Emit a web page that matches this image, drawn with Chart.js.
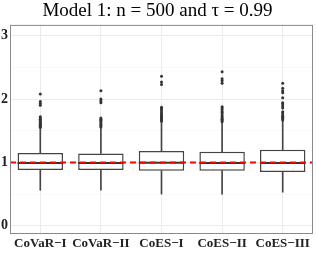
<!DOCTYPE html>
<html>
<head>
<meta charset="utf-8">
<script src="https://cdn.jsdelivr.net/npm/chart.js@4"></script>
<style>
  body { margin: 0; background: #fff; }
  #wrap { width: 317px; height: 253px; }
</style>
</head>
<body>
<div id="wrap"><canvas id="boxChart"></canvas></div>
<script>
const categories = ["CoVaR\u2212I", "CoVaR\u2212II", "CoES\u2212I", "CoES\u2212II", "CoES\u2212III"];
const lowerWhisker = [0.56, 0.56, 0.50, 0.50, 0.53];
const q1 = [0.88, 0.88, 0.87, 0.87, 0.85];
const medians = [0.99, 0.99, 0.995, 0.99, 0.99];
const q3 = [1.15, 1.14, 1.18, 1.17, 1.20];
const upperWhisker = [1.53, 1.54, 1.63, 1.62, 1.65];
const outliers = [
  [1.55, 1.57, 1.58, 1.60, 1.61, 1.62, 1.64, 1.66, 1.68, 1.70, 1.72, 1.90, 1.93, 1.96, 2.08],
  [1.56, 1.58, 1.60, 1.62, 1.64, 1.66, 1.68, 1.70, 1.94, 1.97, 2.00, 2.13],
  [1.65, 1.67, 1.69, 1.71, 1.73, 1.75, 1.77, 1.80, 1.83, 1.85, 1.87, 2.23, 2.27, 2.36],
  [1.64, 1.66, 1.68, 1.70, 1.72, 1.75, 1.78, 1.80, 1.83, 1.86, 1.88, 2.25, 2.29, 2.32, 2.43],
  [1.67, 1.69, 1.71, 1.73, 1.75, 1.78, 1.80, 1.86, 1.89, 1.92, 1.94, 2.02, 2.10, 2.13, 2.17, 2.25]
];
const yTicks = [0, 0.5, 1, 1.5, 2, 2.5, 3];
const refLine = 1;

const serif = "'Liberation Serif', 'Times New Roman', serif";

const outlierPoints = [];
outliers.forEach((list, i) => {
  list.forEach(v => outlierPoints.push({ x: categories[i], y: v }));
});

const boxExtras = {
  id: "boxExtras",
  afterDatasetsDraw(chart) {
    const ctx = chart.ctx;
    const y = chart.scales.y;
    const area = chart.chartArea;
    const boxes = chart.getDatasetMeta(0).data;

    // medians
    ctx.save();
    ctx.strokeStyle = "#333333";
    ctx.lineWidth = 2;
    boxes.forEach((bar, i) => {
      const py = y.getPixelForValue(medians[i]);
      ctx.beginPath();
      ctx.moveTo(bar.x - bar.width / 2, py);
      ctx.lineTo(bar.x + bar.width / 2, py);
      ctx.stroke();
    });

    // red dashed reference line
    ctx.strokeStyle = "#ff0000";
    ctx.lineWidth = 2;
    ctx.setLineDash([6, 4]);
    const ry = y.getPixelForValue(refLine);
    ctx.beginPath();
    ctx.moveTo(area.left, ry);
    ctx.lineTo(area.right, ry);
    ctx.stroke();
    ctx.restore();

    // panel border
    ctx.save();
    ctx.strokeStyle = "#8a8a8a";
    ctx.lineWidth = 1;
    ctx.strokeRect(area.left + 0.5, area.top + 0.5, area.right - area.left - 1, area.bottom - area.top - 1);
    ctx.restore();
  }
};

const ctx = document.getElementById("boxChart").getContext("2d");
new Chart(ctx, {
  type: "bar",
  data: {
    labels: categories,
    datasets: [
      {
        label: "box",
        data: categories.map((c, i) => [q1[i], q3[i]]),
        backgroundColor: "#ffffff",
        borderColor: "#444444",
        borderWidth: 1.5,
        borderSkipped: false,
        categoryPercentage: 0.75,
        barPercentage: 1,
        grouped: false,
        order: 1
      },
      {
        label: "upper",
        data: categories.map((c, i) => [q3[i], upperWhisker[i]]),
        backgroundColor: "#444444",
        barThickness: 1,
        grouped: false,
        order: 2
      },
      {
        label: "lower",
        data: categories.map((c, i) => [lowerWhisker[i], q1[i]]),
        backgroundColor: "#444444",
        barThickness: 1,
        grouped: false,
        order: 2
      },
      {
        type: "line",
        label: "outliers",
        data: outlierPoints,
        showLine: false,
        pointRadius: 1.5,
        pointBackgroundColor: "#333333",
        pointBorderWidth: 0,
        order: 0
      }
    ]
  },
  options: {
    responsive: true,
    maintainAspectRatio: false,
    animation: false,
    layout: { padding: { left: 0, right: 2, top: 0, bottom: 0 } },
    plugins: {
      legend: { display: false },
      tooltip: { enabled: false },
      title: {
        display: true,
        text: "Model 1: n = 500 and \u03c4 = 0.99",
        color: "#000000",
        font: { family: serif, size: 19, weight: "normal", lineHeight: 1.1 },
        padding: { top: 1, bottom: 3 }
      }
    },
    scales: {
      x: {
        grid: { offset: false, color: "#ebebeb", lineWidth: 1, drawTicks: false },
        border: { display: false },
        ticks: {
          color: "#222222",
          padding: 2,
          maxRotation: 0,
          autoSkip: false,
          font: { family: serif, size: 13, weight: "bold" }
        },
        afterFit(scale) { scale.height = 19; }
      },
      y: {
        min: -0.13,
        max: 3.17,
        afterBuildTicks(scale) { scale.ticks = yTicks.map(v => ({ value: v })); },
        grid: {
          drawTicks: false,
          color: (c) => Number.isInteger(c.tick.value) ? "#ebebeb" : "#f4f4f4",
          lineWidth: (c) => Number.isInteger(c.tick.value) ? 1 : 0.6
        },
        border: { display: false },
        ticks: {
          color: "#222222",
          padding: 2,
          font: { family: serif, size: 14, weight: "bold" },
          callback: (v) => Number.isInteger(v) ? String(v) : ""
        },
        afterFit(scale) { scale.width = 10; }
      }
    }
  },
  plugins: [boxExtras]
});
</script>
</body>
</html>
